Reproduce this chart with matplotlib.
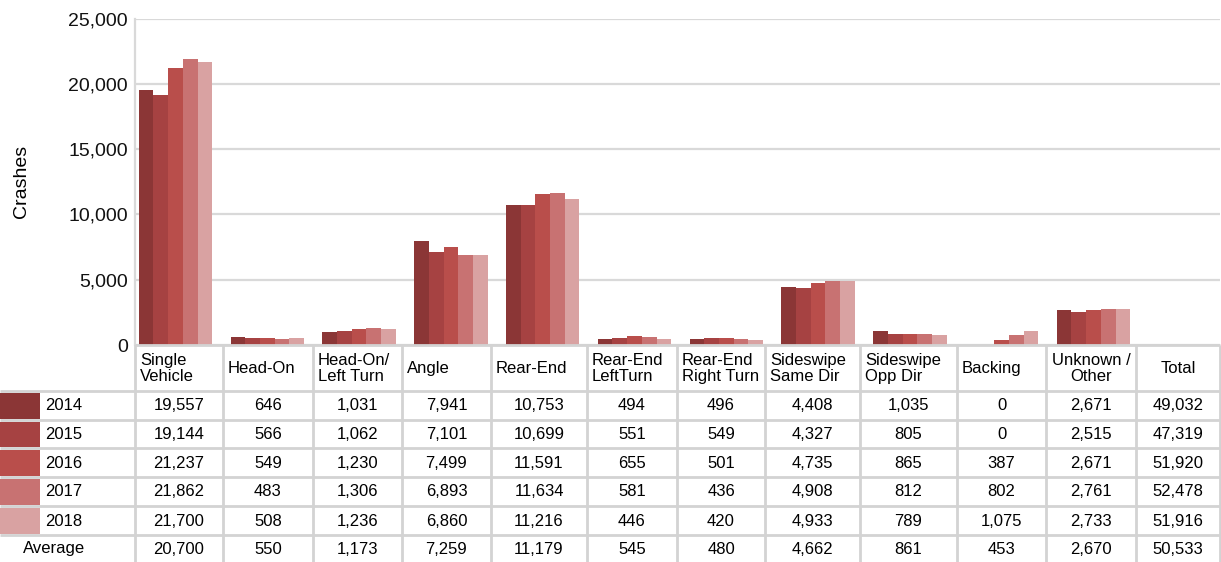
import matplotlib
matplotlib.use("Agg")
import matplotlib.pyplot as plt
import numpy as np

plt.rcParams['font.family'] = ['Liberation Sans', 'DejaVu Sans']

categories = ["Single\nVehicle", "Head-On", "Head-On/\nLeft Turn", "Angle", "Rear-End",
              "Rear-End\nLeftTurn", "Rear-End\nRight Turn", "Sideswipe\nSame Dir",
              "Sideswipe\nOpp Dir", "Backing", "Unknown /\nOther"]
years = ["2014", "2015", "2016", "2017", "2018"]
v2014 = [19557, 646, 1031, 7941, 10753, 494, 496, 4408, 1035, 0, 2671]
v2015 = [19144, 566, 1062, 7101, 10699, 551, 549, 4327, 805, 0, 2515]
v2016 = [21237, 549, 1230, 7499, 11591, 655, 501, 4735, 865, 387, 2671]
v2017 = [21862, 483, 1306, 6893, 11634, 581, 436, 4908, 812, 802, 2761]
v2018 = [21700, 508, 1236, 6860, 11216, 446, 420, 4933, 789, 1075, 2733]
average = [20700, 550, 1173, 7259, 11179, 545, 480, 4662, 861, 453, 2670]
totals = [49032, 47319, 51920, 52478, 51916]
avg_total = 50533
series = [v2014, v2015, v2016, v2017, v2018]
colors = ["#8b3636", "#a64242", "#b94e4b", "#c87272", "#d9a2a2"]

W, H = 1221, 562
fig = plt.figure(figsize=(W / 100, H / 100), dpi=100)

# chart axes (pixel layout)
ax_l, ax_r, ax_t, ax_b = 135, 1220, 18.5, 345
ax = fig.add_axes([ax_l / W, 1 - ax_b / H, (ax_r - ax_l) / W, (ax_b - ax_t) / H])
x = np.arange(len(categories))
bw = 0.16
for i, (vals, c) in enumerate(zip(series, colors)):
    ax.bar(x + (i - 2) * bw, vals, width=bw, color=c, zorder=3, linewidth=0)
ax.set_ylim(0, 25000)
ax.set_xlim(-0.441, 11.378)
ax.set_yticks(np.arange(0, 25001, 5000))
ax.set_yticklabels([f"{v:,}" for v in range(0, 25001, 5000)], fontsize=14)
ax.tick_params(axis='y', length=0, pad=5, labelcolor='#111111')
ax.set_xticks([])
ax.grid(axis='y', color='#d9d9d9', linewidth=1.6, zorder=0)
for s in ['top', 'right', 'bottom']:
    ax.spines[s].set_visible(False)
ax.spines['left'].set_color('#d9d9d9')
ax.spines['left'].set_linewidth(1.6)
ax.set_ylabel("Crashes", fontsize=14, labelpad=28)

# data table drawn below
tax = fig.add_axes([0, 0, 1, 1], facecolor='none')
tax.set_xlim(0, W)
tax.set_ylim(H, 0)
tax.axis('off')
col_edges = [135, 223, 313, 402, 491, 587, 677, 765, 860, 957, 1046, 1136, 1220]
row_edges = [345, 391, 420, 448, 477, 506, 535, 562]
bc = '#d3d3d3'
blw = 2.0
for y in row_edges[:-1]:
    x0 = 135 if y == 345 else 0
    tax.plot([x0, 1220], [y, y], color=bc, lw=blw, solid_capstyle='butt')
for xe in col_edges:
    tax.plot([xe, xe], [345, 562], color=bc, lw=blw, solid_capstyle='butt')

fs = 12
hy = (row_edges[0] + row_edges[1]) / 2 + 0.5
for j, cat in enumerate(categories):
    if cat.startswith("Unknown"):
        tax.text((col_edges[j] + col_edges[j + 1]) / 2, hy, cat, ha='center', va='center',
                 fontsize=fs, multialignment='center', linespacing=1.1)
    else:
        tax.text(col_edges[j] + 5, hy, cat, ha='left', va='center', fontsize=fs, linespacing=1.1)
tax.text((col_edges[-2] + col_edges[-1]) / 2, hy, "Total", ha='center', va='center', fontsize=fs)

rows = series + [average]
row_totals = totals + [avg_total]
labels = years + ["Average"]
for r, (vals, tot, lab) in enumerate(zip(rows, row_totals, labels)):
    y0, y1 = row_edges[r + 1], row_edges[r + 2]
    yc = (y0 + y1) / 2 + 0.5
    if r < 5:
        tax.add_patch(plt.Rectangle((0, y0 + 1.5), 40, (y1 - y0) - 3, color=colors[r], lw=0))
        tax.text(45, yc, lab, ha='left', va='center', fontsize=fs)
    else:
        tax.text(23, yc, lab, ha='left', va='center', fontsize=fs)
    for j, v in enumerate(list(vals) + [tot]):
        tax.text((col_edges[j] + col_edges[j + 1]) / 2, yc, f"{v:,}", ha='center', va='center', fontsize=fs)

fig.savefig("out.png", dpi=100)
